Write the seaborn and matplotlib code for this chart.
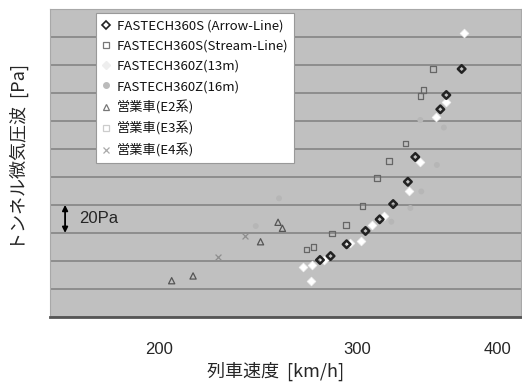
import matplotlib
matplotlib.use("Agg")
import matplotlib.pyplot as plt
from matplotlib.lines import Line2D
import matplotlib.transforms as mtransforms
import seaborn as sns
import pandas as pd

# ---- data ----
arrow_x = [278.2, 284.3, 293.8, 305.4, 314.4, 323.2, 333.1, 338.2, 356.0, 360.4, 371.9]
arrow_y = [40.7, 43.5, 51.9, 61.4, 69.7, 80.6, 96.5, 114.2, 148.2, 158.4, 177.0]

stream_x = [270.7, 274.6, 285.3, 293.5, 303.5, 312.8, 320.3, 331.6, 341.7, 344.0, 350.7]
stream_y = [48.3, 49.8, 59.7, 65.6, 79.4, 99.0, 111.3, 123.7, 157.7, 162.0, 177.0]

z13_x = [268.9, 273.3, 273.9, 280.4, 295.8, 302.6, 309.8, 317.5, 334.1, 341.7, 352.9, 360.2, 373.4]
z13_y = [35.5, 25.9, 37.1, 40.7, 53.0, 54.0, 65.6, 72.1, 89.6, 110.8, 142.9, 153.6, 202.9]

z16_x = [243.9, 255.8, 322.0, 334.8, 342.4, 341.7, 353.5, 358.6]
z16_y = [64.9, 84.7, 68.0, 77.8, 89.6, 140.6, 108.5, 135.2]

e2_x = [205.3, 214.5, 246.3, 255.3, 257.6]
e2_y = [25.9, 29.3, 53.7, 67.6, 63.3]

e3_x = []
e3_y = []

e4_x = [225.8, 238.4]
e4_y = [42.6, 57.8]

labels = ["FASTECH360S (Arrow-Line)", "FASTECH360S(Stream-Line)",
          "FASTECH360Z(13m)", "FASTECH360Z(16m)",
          "営業車(E2系)", "営業車(E3系)", "営業車(E4系)"]
xticks = [200, 300, 400]
minor_ticks = [180, 220, 240, 260, 280, 320, 340, 360, 380]

# ---- figure ----
sns.set_style("white")
plt.rcParams['font.family'] = ['Noto Sans CJK JP', 'DejaVu Sans']

fig = plt.figure(figsize=(5.22, 3.85), dpi=100)
ax = fig.add_axes([0.0958, 0.1766, 0.9023, 0.8008])
ax.set_facecolor('#c0c0c0')

series = [
    (z16_x, z16_y, dict(marker='o', s=18, color='#b6b6b6', edgecolor='none')),
    (z13_x, z13_y, dict(marker='D', s=20, color='#ffffff', edgecolor='#f0f0f0', linewidth=0.5)),
    (e2_x, e2_y, dict(marker='^', s=20, facecolor='none', edgecolor='#555555', linewidth=0.9)),
    (e4_x, e4_y, dict(marker='x', s=18, color='#8e8e8e', linewidth=0.9)),
    (stream_x, stream_y, dict(marker='s', s=16, facecolor='none', edgecolor='#666666', linewidth=0.9)),
    (arrow_x, arrow_y, dict(marker='D', s=15, facecolor='none', edgecolor='#222222', linewidth=1.8)),
]
for xs, ys, kw in series:
    if len(xs):
        df = pd.DataFrame({'x': xs, 'y': ys})
        sns.scatterplot(data=df, x='x', y='y', ax=ax, legend=False, zorder=3, **kw)
if len(e3_x):
    sns.scatterplot(x=e3_x, y=e3_y, ax=ax, marker='s', s=16, facecolor='none',
                    edgecolor='#dddddd', legend=False, zorder=3)

ax.set_xscale('log')
ax.set_xlim(160, 420)
ax.set_ylim(0, 220)
ax.set_xticks(xticks)
ax.set_xticklabels([str(t) for t in xticks])
ax.set_xticks(minor_ticks, minor=True)
ax.set_xticklabels([], minor=True)
for t in ax.get_xticklabels():
    t.set_fontfamily(['Liberation Sans', 'DejaVu Sans'])
ax.set_yticks(range(0, 221, 20))
ax.set_yticklabels([])
ax.tick_params(axis='y', length=0)
ax.tick_params(axis='x', which='major', direction='inout', length=8, width=1.2,
               color='#333333', labelsize=12, pad=14)
ax.tick_params(axis='x', which='minor', direction='inout', length=4, width=1.0,
               color='#333333')
ax.grid(axis='y', color='#858585', linewidth=1.2)
ax.set_axisbelow(True)
for side in ['top', 'left', 'right']:
    ax.spines[side].set_color('#a8a8a8')
    ax.spines[side].set_linewidth(0.8)
ax.spines['bottom'].set_color('#555555')
ax.spines['bottom'].set_linewidth(2.0)

ax.set_xlabel('列車速度  [km/h]', fontsize=13)
ax.xaxis.set_label_coords(0.478, -0.145)
ax.set_ylabel('トンネル微気圧波  [Pa]', fontsize=13)
ax.yaxis.set_label_coords(-0.045, 0.52)

# 20Pa scale annotation
trans = mtransforms.blended_transform_factory(ax.transAxes, ax.transData)
ax.annotate('', xy=(0.032, 80), xytext=(0.032, 60), xycoords=trans, textcoords=trans,
            arrowprops=dict(arrowstyle='<|-|>', color='black', lw=1.3,
                            mutation_scale=8, shrinkA=0, shrinkB=0))
ax.text(0.062, 70, '20Pa', transform=trans, fontsize=12, va='center', ha='left',
        family=['Liberation Sans', 'DejaVu Sans'])

# legend
handles = [
    Line2D([], [], ls='', marker='D', ms=4, mfc='none', mec='#222222', mew=1.2),
    Line2D([], [], ls='', marker='s', ms=4, mfc='none', mec='#777777', mew=0.9),
    Line2D([], [], ls='', marker='D', ms=4, mfc='#eeeeee', mec='#eeeeee'),
    Line2D([], [], ls='', marker='o', ms=4, mfc='#bbbbbb', mec='#bbbbbb'),
    Line2D([], [], ls='', marker='^', ms=4, mfc='none', mec='#777777', mew=0.9),
    Line2D([], [], ls='', marker='s', ms=4, mfc='none', mec='#cccccc', mew=0.9),
    Line2D([], [], ls='', marker='x', ms=4, mec='#aaaaaa', mew=0.9),
]
leg = ax.legend(handles, labels, loc='upper left', bbox_to_anchor=(0.098, 0.985),
                fontsize=9.5, frameon=True, fancybox=False, framealpha=1,
                edgecolor='#999999', labelspacing=0.55, handlelength=0.6,
                handletextpad=0.5, borderpad=0.45, borderaxespad=0)
leg.get_frame().set_linewidth(0.8)
for t in leg.get_texts():
    t.set_color('#111111')

fig.savefig('out.png', dpi=100, facecolor='white')
